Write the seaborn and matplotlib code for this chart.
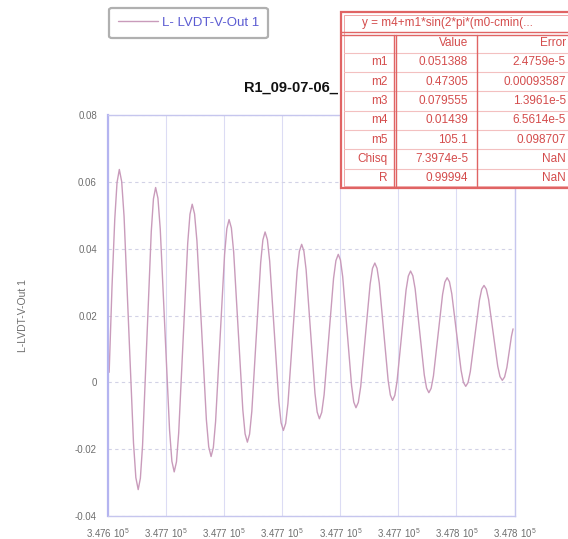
import matplotlib
matplotlib.use("Agg")
import matplotlib.pyplot as plt
import seaborn as sns
import pandas as pd
from matplotlib.patches import Rectangle
from matplotlib.lines import Line2D

# ---- data -------------------------------------------------------------
series_name = "L- LVDT-V-Out 1"
y_label = "L-LVDT-V-Out 1"
title = "R1_09-07-06_"

time_s = [
    347640.4, 347641.38, 347642.33, 347643.11,
    347643.9,
    347644.71, 347645.53, 347647.15, 347648.78, 347649.59, 347650.4,
    347651.15, 347651.9, 347653.4, 347654.9, 347655.65, 347656.4,
    347657.2, 347658.0, 347659.6, 347661.2, 347662.0, 347662.8,
    347663.58, 347664.35, 347665.9, 347667.45, 347668.23, 347669.0,
    347669.81, 347670.63, 347672.25, 347673.88, 347674.69, 347675.5,
    347676.28, 347677.05, 347678.6, 347680.15, 347680.93, 347681.7,
    347682.49, 347683.28, 347684.85, 347686.43, 347687.21, 347688.0,
    347688.76, 347689.53, 347691.05, 347692.58, 347693.34, 347694.1,
    347694.89, 347695.68, 347697.25, 347698.83, 347699.61, 347700.4,
    347701.19, 347701.98, 347703.55, 347705.13, 347705.91, 347706.7,
    347707.46, 347708.23, 347709.75, 347711.28, 347712.04, 347712.8,
    347713.61, 347714.43, 347716.05, 347717.68, 347718.49, 347719.3,
    347720.06, 347720.83, 347722.35, 347723.88, 347724.64, 347725.4,
    347726.21, 347727.03, 347728.65, 347730.28, 347731.09, 347731.9,
    347732.66, 347733.43, 347734.95, 347736.48, 347737.24, 347738.0,
    347738.78, 347739.55, 347741.1, 347742.65, 347743.43, 347744.2,
    347744.99, 347745.78, 347747.35, 347748.93, 347749.71, 347750.5,
    347751.29, 347752.08, 347753.65, 347755.23, 347756.01, 347756.8,
    347757.6, 347758.4, 347760.0, 347761.6, 347762.4, 347763.2,
    347763.99, 347764.78, 347766.35, 347767.93, 347768.71, 347769.5,
    347770.29, 347771.08, 347772.65, 347774.23, 347775.01, 347775.8,
    347776.59, 347777.38, 347778.95, 347779.5,
]

lvdt_v = [
    0.0030, 0.0286, 0.0488, 0.0598,
    0.0637,
    0.0601, 0.0497, 0.0158, -0.0181, -0.0285, -0.0321,
    -0.0287, -0.0189, 0.0131, 0.0451, 0.0549, 0.0583,
    0.0551, 0.0458, 0.0158, -0.0143, -0.0236, -0.0268,
    -0.0238, -0.0151, 0.0133, 0.0416, 0.0503, 0.0533,
    0.0504, 0.0423, 0.0156, -0.0112, -0.0193, -0.0222,
    -0.0195, -0.0118, 0.0133, 0.0383, 0.0460, 0.0487,
    0.0462, 0.0390, 0.0154, -0.0082, -0.0154, -0.0179,
    -0.0155, -0.0087, 0.0136, 0.0358, 0.0426, 0.0450,
    0.0427, 0.0363, 0.0153, -0.0057, -0.0121, -0.0144,
    -0.0123, -0.0063, 0.0135, 0.0332, 0.0392, 0.0413,
    0.0393, 0.0337, 0.0152, -0.0033, -0.0089, -0.0109,
    -0.0090, -0.0037, 0.0137, 0.0311, 0.0364, 0.0383,
    0.0366, 0.0316, 0.0154, -0.0009, -0.0059, -0.0076,
    -0.0060, -0.0013, 0.0141, 0.0294, 0.0341, 0.0357,
    0.0341, 0.0297, 0.0152, 0.0006, -0.0038, -0.0054,
    -0.0039, 0.0003, 0.0140, 0.0276, 0.0318, 0.0333,
    0.0319, 0.0280, 0.0151, 0.0022, -0.0017, -0.0031,
    -0.0018, 0.0019, 0.0141, 0.0263, 0.0300, 0.0313,
    0.0301, 0.0265, 0.0151, 0.0036, 0.0000, -0.0012,
    -0.0001, 0.0032, 0.0139, 0.0246, 0.0279, 0.0290,
    0.0279, 0.0248, 0.0148, 0.0048, 0.0017, 0.0006,
    0.0016, 0.0045, 0.0138, 0.0160,
]

x_ticks = [347640, 347660, 347680, 347700, 347720, 347740, 347760, 347780]
x_tick_labels = [r"3.476 10$^{5}$", r"3.477 10$^{5}$", r"3.477 10$^{5}$",
                 r"3.477 10$^{5}$", r"3.477 10$^{5}$", r"3.477 10$^{5}$",
                 r"3.478 10$^{5}$", r"3.478 10$^{5}$"]
y_ticks = [-0.04, -0.02, 0.0, 0.02, 0.04, 0.06, 0.08]
y_tick_labels = ["-0.04", "-0.02", "0", "0.02", "0.04", "0.06", "0.08"]

fit_formula = "y = m4+m1*sin(2*pi*(m0-cmin(..."
param_names = ["m1", "m2", "m3", "m4", "m5", "Chisq", "R"]
param_values = ["0.051388", "0.47305", "0.079555", "0.01439", "105.1",
                "7.3974e-5", "0.99994"]
param_errors = ["2.4759e-5", "0.00093587", "1.3961e-5", "6.5614e-5",
                "0.098707", "NaN", "NaN"]

# ---- style ------------------------------------------------------------
sns.set_style("white")
plt.rcParams["font.family"] = ["Liberation Sans", "DejaVu Sans"]
plt.rcParams["mathtext.fontset"] = "custom"
plt.rcParams["mathtext.rm"] = "Liberation Sans"
plt.rcParams["mathtext.default"] = "regular"

W, H = 568, 539
fig = plt.figure(figsize=(W / 100, H / 100), dpi=100)


def fx(px):
    return px / W


def fy(py):
    return 1 - py / H


LINE_COLOR = "#c99bbb"
TICK_COLOR = "#6e6e6e"
RED = "#e06464"
RED_TEXT = "#d44c4c"

ax = fig.add_axes([fx(108), fy(516), fx(514.5) - fx(108), fy(115) - fy(516)])
df = pd.DataFrame({"t": time_s, "v": lvdt_v})
sns.lineplot(data=df, x="t", y="v", ax=ax, color=LINE_COLOR, lw=1.0,
             sort=False, estimator=None, label=series_name)

ax.set_xlim(x_ticks[0], x_ticks[-1])
ax.set_ylim(y_ticks[0], y_ticks[-1])
ax.set_xticks(x_ticks)
ax.set_xticklabels(x_tick_labels)
ax.set_yticks(y_ticks)
ax.set_yticklabels(y_tick_labels)
ax.tick_params(axis="both", length=0, labelsize=7, colors=TICK_COLOR)
ax.tick_params(axis="x", pad=7)
ax.tick_params(axis="y", pad=8)
ax.set_xlabel("")
ax.set_ylabel(y_label, fontsize=7.5, color=TICK_COLOR)
ax.yaxis.set_label_coords(-0.197, 0.5)

ax.grid(axis="x", color="#dcdcf4", lw=0.8, ls="-")
ax.grid(axis="y", color="#d2d2e6", lw=0.8, ls=(0, (3, 3)))
for side, sp in ax.spines.items():
    sp.set_color("#c6c6ee")
    sp.set_linewidth(1.0)
ax.spines["left"].set_color("#b4b4f0")
ax.spines["left"].set_linewidth(1.6)

leg = ax.legend(loc="center", bbox_to_anchor=(fx(188.5), fy(23)),
                bbox_transform=fig.transFigure, fontsize=9.5,
                labelcolor="#5b5bd2", frameon=True, fancybox=True,
                edgecolor="#9c9c9c", handlelength=3.0, handletextpad=0.3,
                borderpad=0.7)
leg.get_frame().set_linewidth(1.6)

fig.text(fx(244), fy(88), title, ha="left", va="center", fontsize=10.5,
         fontweight="bold", color="#111111", zorder=2)

# ---- fit results table ----------------------------------------------
t_left, t_right = 341, 610
t_top, head_bot, t_bot = 12, 33.5, 188
name_div, val_div = 395, 477
row_h = (t_bot - head_bot) / (len(param_names) + 1)


def hline(py, x0, x1, color, lw):
    fig.add_artist(Line2D([fx(x0), fx(x1)], [fy(py), fy(py)],
                          color=color, lw=lw, zorder=6))


def vline(px, y0, y1, color, lw):
    fig.add_artist(Line2D([fx(px), fx(px)], [fy(y0), fy(y1)],
                          color=color, lw=lw, zorder=6))


fig.add_artist(Rectangle((fx(t_left), fy(t_bot)), fx(t_right) - fx(t_left),
                         fy(t_top) - fy(t_bot), facecolor="white",
                         edgecolor=RED, lw=1.6, zorder=5))
fig.add_artist(Rectangle((fx(t_left + 2.5), fy(t_bot - 2.5)),
                         fx(t_right) - fx(t_left + 2.5),
                         fy(t_top + 2.5) - fy(t_bot - 2.5), facecolor="none",
                         edgecolor="#efa8a8", lw=0.7, zorder=6))

hline(head_bot - 1.5, t_left, t_right, RED, 1.0)
hline(head_bot + 1.5, t_left, t_right, RED, 1.0)
for i in range(1, len(param_names) + 1):
    hline(head_bot + i * row_h, t_left + 2.5, t_right, "#f3c0c0", 0.8)
vline(name_div - 1.3, head_bot + 1.5, t_bot - 2.5, RED, 1.0)
vline(name_div + 1.3, head_bot + 1.5, t_bot - 2.5, RED, 1.0)
vline(val_div, head_bot + 1.5, t_bot - 2.5, RED, 1.0)

fig.text(fx(362), fy((t_top + head_bot) / 2), fit_formula, ha="left",
         va="center", fontsize=8.5, color=RED_TEXT, zorder=7)

table_font = 8.5
err_right = 566
cy = head_bot + row_h / 2
fig.text(fx(468), fy(cy), "Value", ha="right", va="center",
         fontsize=table_font, color=RED_TEXT, zorder=7)
fig.text(fx(err_right), fy(cy), "Error", ha="right", va="center",
         fontsize=table_font, color=RED_TEXT, zorder=7)
for i, (n, v, e) in enumerate(zip(param_names, param_values, param_errors)):
    cy = head_bot + (i + 1.5) * row_h
    fig.text(fx(388), fy(cy), n, ha="right", va="center",
             fontsize=table_font, color=RED_TEXT, zorder=7)
    fig.text(fx(468), fy(cy), v, ha="right", va="center",
             fontsize=table_font, color=RED_TEXT, zorder=7)
    fig.text(fx(err_right), fy(cy), e, ha="right", va="center",
             fontsize=table_font, color=RED_TEXT, zorder=7)

fig.savefig("out.png", dpi=100)
